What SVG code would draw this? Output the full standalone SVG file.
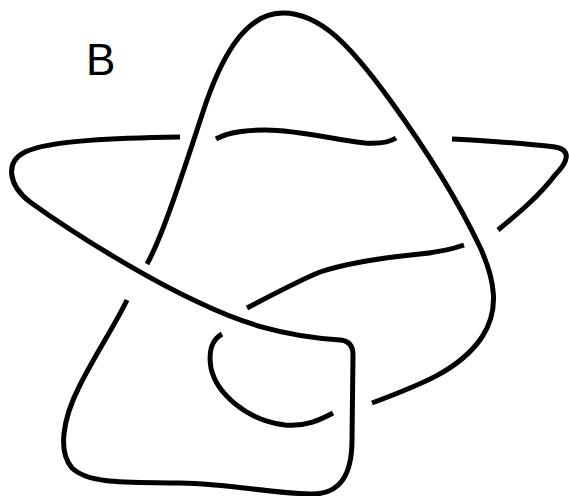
<svg xmlns="http://www.w3.org/2000/svg" width="569" height="496" viewBox="0 0 569 496">
<style>
.s{fill:none;stroke:#000;stroke-width:5;stroke-linecap:butt;stroke-linejoin:round}
.lbl{font-family:"Liberation Sans",Arial,sans-serif;font-size:44px;fill:#000}
</style>
<rect width="569" height="496" fill="#fff"/>
<text class="lbl" x="86" y="75">B</text>
<g id="knot">
<path id="arcA" class="s" d="M147,264 C165,232 190,150 207,100 C225,50 248,13 283,13 C320,13 350,45 390,100 C430,155 460,205 480,247 C495,280 500,310 482,337 C460,370 420,385 372,403"/>
<path id="arcB" class="s" d="M180,137 C120,138 50,140 25,152 C5,162 8,185 30,202 C80,238 150,280 200,303 C240,322 280,336 340,340 Q353,341 353,355 L352,440 C352,475 340,495 310,494 C270,493 230,484 180,483 C130,482 90,485 72,468 C58,452 62,420 80,385 C95,355 115,325 127,300"/>
<path id="arcC" class="s" d="M216,139 C228,132 245,130 265,130 C300,130 335,140 365,143 C380,144 390,142 396,138"/>
<path id="arcD" class="s" d="M452,139 C490,141 530,144 555,147 C572,150 568,162 555,175 C540,195 520,212 498,230"/>
<path id="arcE" class="s" d="M464,245 C450,250 440,252 420,254 C390,257 350,262 320,272 C300,280 270,296 247,308"/>
<path id="arcF" class="s" d="M222,334 C212,340 208,350 211,368 C216,392 245,420 285,425 C305,427 320,420 333,413"/>
</g>
</svg>
